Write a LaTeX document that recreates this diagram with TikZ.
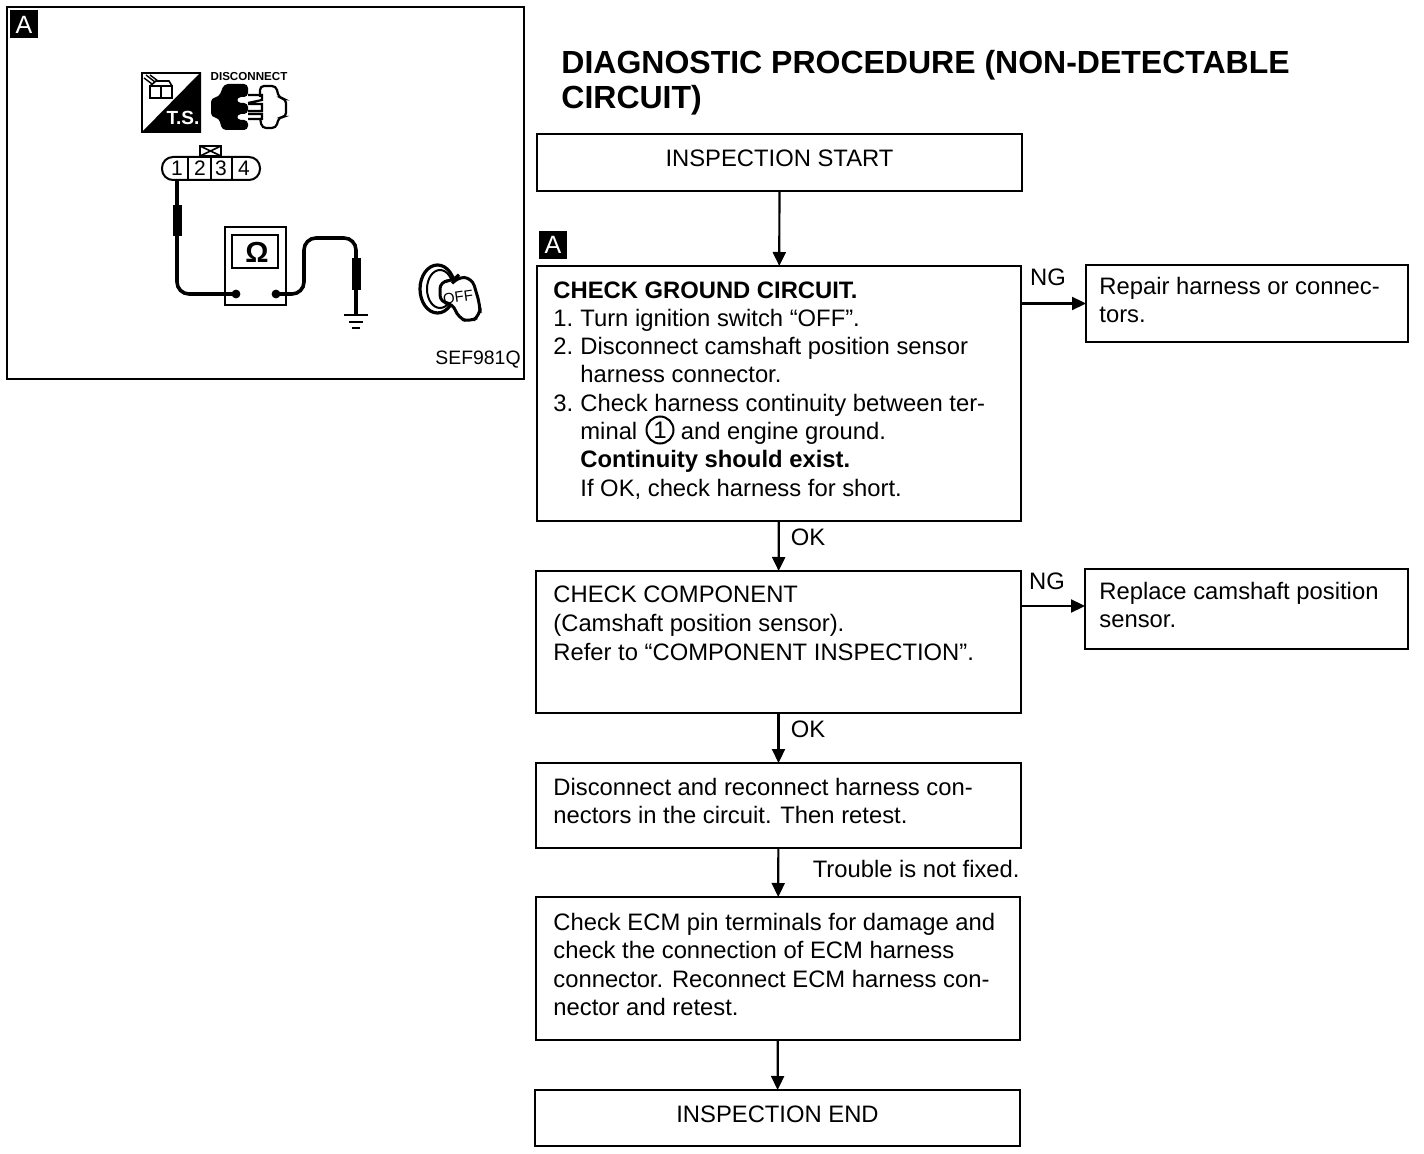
\documentclass[tikz,border=0pt]{standalone}
\usepackage{fontspec}
\setmainfont{Liberation Sans}
\usetikzlibrary{fit,arrows.meta,calc}
\newcommand{\num}[1]{\makebox[13.5pt][l]{#1}}
\tikzset{
  x=0.5pt,y=-0.5pt,
  box/.style={draw,line width=1pt,inner sep=0pt,outer sep=0pt,rectangle},
  txt/.style={anchor=north west,inner sep=0pt,align=left,font=\fontsize{11.9}{14.15}\selectfont},
  lab/.style={inner sep=0pt,font=\fontsize{11.9}{14.15}\selectfont},
  tag/.style={fill=black,text=white,inner sep=0pt,outer sep=0pt},
  taglet/.style={text=white,inner sep=0pt,font=\fontsize{12.5}{14}\selectfont},
  flow/.style={line width=1.1pt,-{Triangle[length=7pt,width=6.5pt]}},
  wire/.style={line width=1.8pt,rounded corners=6pt},
  sleeve/.style={fill=black,draw=none},
  pin/.style={inner sep=0pt,font=\fontsize{10.5}{11}\selectfont},
}
\begin{document}
\begin{tikzpicture}
\useasboundingbox (0,0) rectangle (1424,1154);
% ---------- title
\node[anchor=north west,inner sep=0pt,align=left,font=\fontsize{16}{17.6}\bfseries\selectfont] (title) at (561,50) {DIAGNOSTIC PROCEDURE (NON-DETECTABLE\\CIRCUIT)};
% ---------- flow boxes
\node[box,fit={(537,134)(1022,191)}] (start) {};
\node[lab] (startt) at (start.center) [yshift=2pt] {INSPECTION START};
\node[tag,fit={(539,231)(567,259)}] (taga) {};
\node[taglet] (tagat) at (553,245) {A};
\node[box,fit={(537,266)(1021,521)}] (check) {};
\node[txt] (checkt) at (553,281) {\textbf{CHECK GROUND CIRCUIT.}\\
\num{1.}Turn ignition switch “OFF”.\\
\num{2.}Disconnect camshaft position sensor\\
\num{}harness connector.\\
\num{3.}Check harness continuity between ter-\\
\num{}minal \hspace{18.5pt}and engine ground.\\
\num{}\textbf{Continuity should exist.}\\
\num{}If OK, check harness for short.};
\node[draw,circle,line width=1pt,minimum size=13.5pt,inner sep=0pt,font=\fontsize{12}{14}\selectfont] (circ) at (660,430) {1};
\node[box,fit={(1086,265)(1408,342)}] (repair) {};
\node[txt] (repairt) at (1099,277) {Repair harness or connec-\\tors.};
\node[box,fit={(536,571)(1021,713)}] (comp) {};
\node[txt,font=\fontsize{11.9}{14.6}\selectfont] (compt) at (553,585) {CHECK COMPONENT\\(Camshaft position sensor).\\Refer to “COMPONENT INSPECTION”.};
\node[box,fit={(1085,569)(1408,649)}] (replace) {};
\node[txt] (replacet) at (1099,582) {Replace camshaft position\\sensor.};
\node[box,fit={(536,763)(1021,848)}] (disc) {};
\node[txt] (disct) at (553,778) {Disconnect and reconnect harness con-\\nectors in the circuit. Then retest.};
\node[box,fit={(536,897)(1020,1040)}] (ecm) {};
\node[txt] (ecmt) at (553,913) {Check ECM pin terminals for damage and\\check the connection of ECM harness\\connector. Reconnect ECM harness con-\\nector and retest.};
\node[box,fit={(535,1090)(1020,1146)}] (end) {};
\node[lab] (endt) at (end.center) [yshift=2pt] {INSPECTION END};
% ---------- connectors
\draw[flow] (start) -- (check);
\draw[flow] (check) -- (comp);
\draw[flow] (comp) -- (disc);
\draw[flow] (disc) -- (ecm);
\draw[flow] (ecm) -- (end);
\draw[flow] (check.east |- repair.west) -- (repair.west);
\draw[flow] ([yshift=1.5pt]comp.east |- replace.west) -- ([yshift=1.5pt]replace.west);
\node[lab] (ng1) at (1048,277) {NG};
\node[lab] (ng2) at (1047,581) {NG};
\node[lab] (ok1) at (808,537) {OK};
\node[lab] (ok2) at (808,729) {OK};
\node[lab,anchor=east] (tr) at (1020,869) {Trouble is not fixed.};
% ---------- illustration panel
\node[box,fit={(7,7)(524,379)}] (panel) {};
\node[tag,fit={(10,10)(38,38)}] (tagb) {};
\node[taglet] (tagbt) at (24,25) {A};
% T.S. icon
\draw[line width=1pt] (142,73) rectangle (200,132);
\fill (201,72) -- (201,133) -- (141,133) -- cycle;
\node[text=white,inner sep=0pt,font=\fontsize{9.5}{10}\bfseries\selectfont] (ts) at (183,118) {T.S.};
\draw[line width=.8pt] (150,86) rectangle (172,98) (161,86) -- (161,98) (150,86) -- (156,81) -- (169,81) -- (172,86);
\draw[line width=.7pt] (146,75) -- (155,82) (150,75) -- (158,81) (144,78) -- (152,84);
% disconnect icon
\node[inner sep=0pt,font=\fontsize{5.8}{6}\bfseries\selectfont] (dis) at (249,77) {DISCONNECT};
\fill[rounded corners=2pt] (248,84) -- (224,84) -- (219,97) -- (211,98) -- (211,117) -- (219,118) -- (222,130) -- (248,130) -- (248,120) -- (237,120) -- (237,114) -- (248,114) -- (248,103) -- (237,103) -- (237,97) -- (248,97) -- cycle;
\draw[line width=1.1pt,rounded corners=2pt] (260,97) -- (260,86) -- (276,86) -- (279,98) -- (286,99) -- (286,117) -- (279,117) -- (276,128) -- (262,128) -- (260,118);
\draw[line width=1.1pt] (248,95) -- (262,95) -- (262,100) -- (248,103)
  (248,104) -- (262,104) -- (262,111) -- (248,111)
  (248,114) -- (262,114) -- (262,119) -- (248,119);
% connector with pins
\draw[line width=1pt,rounded corners=5.5pt] (162,157) rectangle (260,180);
\draw[line width=1pt] (188,157) -- (188,180) (211,157) -- (211,180) (232,157) -- (232,180);
\draw[line width=.8pt] (200,146) rectangle (221,156) (200,146) -- (221,156) (200,156) -- (221,146);
\node[pin] (p1) at (177,168) {1};
\node[pin] (p2) at (200,168) {2};
\node[pin] (p3) at (221,168) {3};
\node[pin] (p4) at (244,168) {4};
% meter
\node[box,fit={(225,227)(286,305)}] (meter) {};
\node[draw,line width=1pt,fit={(232,235)(278,268)},inner sep=0pt,outer sep=0pt] (disp) {};
\node[inner sep=0pt,font=\fontsize{14.5}{15}\bfseries\selectfont] (om) at (257,252) {Ω};
\draw[wire] (177,180) -- (177,294) -- (236,294);
\fill (236,294) circle (2.2pt);
\fill (276,294) circle (2.2pt);
\draw[wire] (276,294) -- (304,294) -- (304,238) -- (356,238) -- (356,315);
\fill[sleeve] (173,205) rectangle (182,236);
\fill[sleeve] (352,258) rectangle (361,290);
\draw[line width=1.2pt] (344,315) -- (368,315);
\draw[line width=1.2pt] (349,322) -- (363,322);
\draw[line width=1.4pt] (352,328) -- (360,328);
% ignition key
\draw[line width=1.6pt] (437.5,289) ellipse (8.75pt and 12pt);
\draw[line width=1pt] (440,289) ellipse (6.5pt and 9.5pt);
\fill[white,draw=black,line width=1.5pt,rounded corners=4pt] (440,281) -- (454,281) -- (457,277) -- (472,278) -- (480,305) -- (480,316) -- (470,322) -- (458,318) -- (453,303) -- (440,303) -- cycle;
\node[rotate=8,inner sep=0pt,font=\fontsize{7.5}{8}\selectfont] (off) at (458,297) {OFF};
\node[inner sep=0pt,anchor=east,font=\fontsize{9.7}{10}\selectfont] (code) at (521,360) {SEF981Q};
\end{tikzpicture}
\end{document}
